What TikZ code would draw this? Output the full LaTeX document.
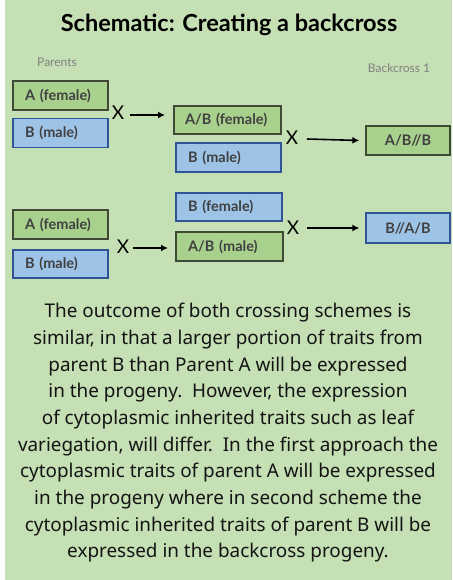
\documentclass[tikz,border=0pt]{standalone}
\usepackage{fontspec}
\setmainfont{Lato}
\newfontfamily\parafont{Noto Sans}
\usetikzlibrary{arrows.meta}
\definecolor{panel}{HTML}{C5E0B4}
\definecolor{gfill}{HTML}{A9D18E}
\definecolor{gdraw}{HTML}{3E4A36}
\definecolor{bfill}{HTML}{9DC3E6}
\definecolor{bdraw}{HTML}{2F5597}
\definecolor{labtext}{HTML}{404040}
\definecolor{smallgray}{HTML}{808080}
\tikzset{
  x=1pt,y=-1pt,
  box/.style={draw, line width=1.3pt, minimum height=#1, inner sep=0pt, font=\bfseries\fontsize{14.5}{16}\selectfont, text=labtext},
  gbox/.style={box=29pt, fill=gfill, draw=gdraw},
  bbox/.style={box=29pt, fill=bfill, draw=bdraw},
  crossx/.style={font=\fontsize{19}{20}\selectfont, inner sep=0pt},
  arr/.style={-{Latex[length=7pt,width=7pt]}, line width=1.6pt},
  small/.style={font=\fontsize{12}{14}\selectfont, text=smallgray, inner sep=0pt}
}
\begin{document}
\begin{tikzpicture}
\useasboundingbox (0,0) rectangle (452,580);
\fill[panel] (4.5,0) rectangle (452,580);
\node[font=\bfseries\fontsize{23.5}{28}\selectfont, inner sep=0pt] (title) at (229,25) {Schematic: Creating a backcross};
\node[small] (par) at (57,62) {Parents};
\node[small] (bc) at (399,68) {Backcross 1};
% scheme 1
\node[gbox, minimum width=95pt, text width=71pt, align=left] (a1) at (60.5,95.5) {\mbox{A (female)}};
\node[bbox, minimum width=95pt, text width=71pt, align=left] (b1) at (60.5,133) {\mbox{B (male)}};
\node[crossx] (x1) at (118,113) {X};
\node[gbox, minimum width=107pt, minimum height=28pt, text width=85pt, align=left] (ab1) at (227.5,120) {\mbox{A/B (female)}};
\node[bbox, minimum width=105pt, text width=81pt, align=left] (b2) at (228.5,157.5) {\mbox{B (male)}};
\node[crossx] (x2) at (292,138) {X};
\node[gbox, minimum width=84pt] (r1) at (408,140.5) {A/B//B};
\coordinate (s1) at (130,115);
\coordinate (e1) at (165,115);
\draw[arr] (s1) -- (e1);
\coordinate (s2) at (307,139);
\draw[arr] (s2) -- ([xshift=-6pt]r1.west);
% scheme 2
\node[gbox, minimum width=95pt, text width=71pt, align=left] (a3) at (60.5,224.5) {\mbox{A (female)}};
\node[bbox, minimum width=95pt, minimum height=28pt, text width=71pt, align=left] (b3) at (60.5,264) {\mbox{B (male)}};
\node[crossx] (x3) at (123,247) {X};
\node[bbox, minimum width=106pt, minimum height=28pt, text width=82pt, align=left] (b4) at (229,207) {\mbox{B (female)}};
\node[gbox, minimum width=107pt, text width=83pt, align=left] (ab4) at (229.5,246.5) {\mbox{A/B (male)}};
\node[crossx] (x4) at (293,228) {X};
\node[bbox, minimum width=84pt, minimum height=30pt] (r2) at (408,228) {B//A/B};
\coordinate (s3) at (133,248);
\coordinate (e3) at (168,248);
\draw[arr] (s3) -- (e3);
\coordinate (s4) at (307,228);
\draw[arr] (s4) -- ([xshift=-6pt]r2.west);
% paragraph
\node[anchor=north, inner sep=0pt, align=center, text=black!92,
  font=\parafont\fontsize{18.9}{26.7}\selectfont] (txt) at (228,303)
{The outcome of both crossing schemes is\\
similar, in that a larger portion of traits from\\
parent B than Parent A will be expressed\\
in the progeny.\ \ However, the expression\\
of cytoplasmic inherited traits such as leaf\\
variegation, will differ.\ \ In the first approach the\\
cytoplasmic traits of parent A will be expressed\\
in the progeny where in second scheme the\\
cytoplasmic inherited traits of parent B will be\\
expressed in the backcross progeny.};
\end{tikzpicture}
\end{document}
